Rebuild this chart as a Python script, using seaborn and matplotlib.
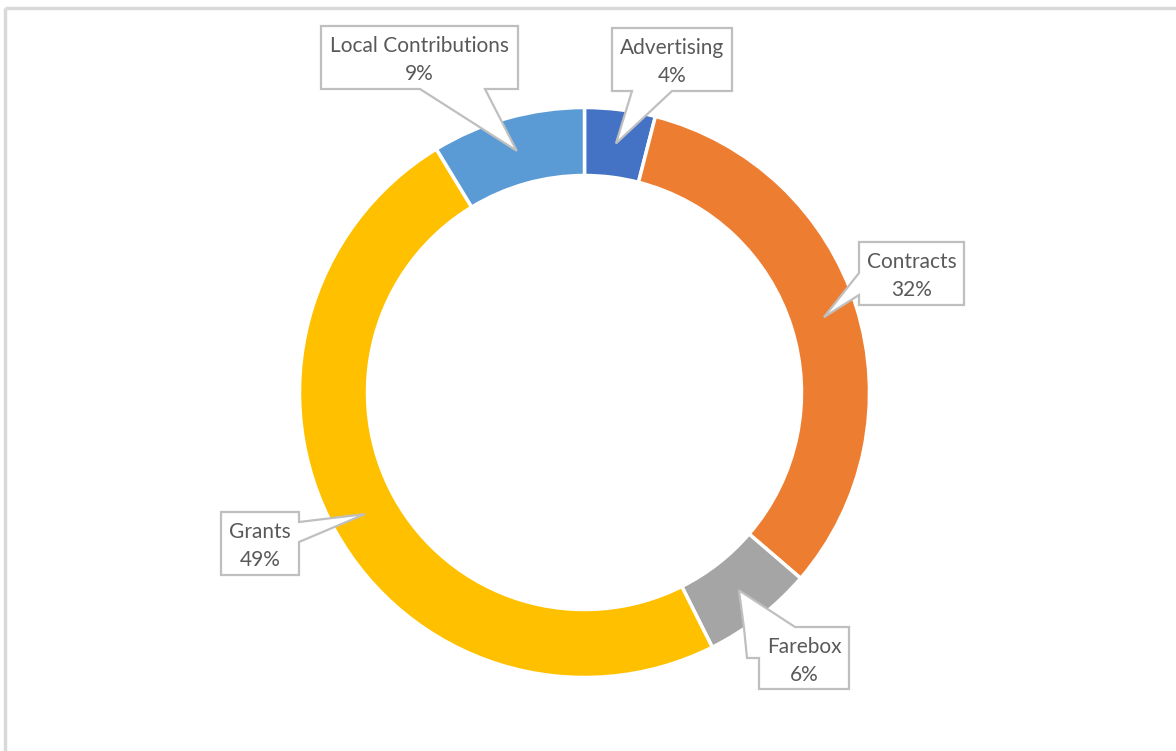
import numpy as np
import seaborn as sns
import matplotlib.pyplot as plt
from matplotlib.patches import Polygon

# data
categories = ["Advertising", "Contracts", "Farebox", "Grants", "Local Contributions"]
values = [4.0, 32.3, 6.3, 48.7, 8.7]
pct_labels = ["4%", "32%", "6%", "49%", "9%"]

sns.set_theme(style="white")
plt.rcParams['font.family'] = ['Lato', 'DejaVu Sans']

W, H = 1176, 751
colors = ["#4472C4", "#ED7D31", "#A5A5A5", "#FFC000", "#5B9BD5"]
cx, cy = 584.5, 392.5
r_out, ring = 285, 68

fig = plt.figure(figsize=(W / 100, H / 100), dpi=100)
ax = fig.add_axes([0, 0, 1, 1])


def px(x, y):
    # pixel coords (y down) -> data coords (y up)
    return (x, H - y)


ax.pie(values, colors=colors, startangle=90, counterclock=False,
       radius=r_out, center=px(cx, cy),
       wedgeprops=dict(width=ring, edgecolor="white", linewidth=2.5))
ax.set_xlim(0, W)
ax.set_ylim(0, H)
ax.set_axis_off()

# chart frame (only top/left visible in the crop)
ax.plot([5, W], [H - 8, H - 8], color="#D9D9D9", lw=2.5, solid_capstyle="butt")
ax.plot([5, 5], [0, H - 8], color="#D9D9D9", lw=2.5, solid_capstyle="butt")

# callout layout: box (x0, y0, x1, y1) in pixels, side of the pointer, base span
layout = {
    "Advertising": ((612, 28, 732, 91), "bottom", 632, 672),
    "Contracts": ((859, 242, 964, 305), "left", 273, 295),
    "Farebox": ((759, 627, 849, 689), "topleft", 795, 658),
    "Grants": ((221, 512, 299, 575), "right", 522, 542),
    "Local Contributions": ((321, 26, 518, 89), "bottom", 420, 485),
}

cum = np.cumsum([0] + values)
r_mid = r_out - ring / 2
for i, name in enumerate(categories):
    mid = (cum[i] + cum[i + 1]) / 2 / cum[-1] * 2 * np.pi
    tip = (cx + r_mid * np.sin(mid), cy - r_mid * np.cos(mid))
    (x0, y0, x1, y1), side, a, b = layout[name]
    TL, TR, BR, BL = (x0, y0), (x1, y0), (x1, y1), (x0, y1)
    if side == "bottom":
        pts = [TL, TR, BR, (b, y1), tip, (a, y1), BL]
    elif side == "left":
        pts = [TL, TR, BR, BL, (x0, b), tip, (x0, a)]
    elif side == "right":
        pts = [TL, TR, (x1, a), tip, (x1, b), BR, BL]
    else:
        pts = [(a, y0), TR, BR, BL, (x0, b), (x0 - 12, b), (x0 - 15, y0 + 1), tip]
    poly = Polygon([px(*p) for p in pts], closed=True, facecolor="white",
                   edgecolor="#BFBFBF", linewidth=1.6, zorder=5)
    ax.add_patch(poly)
    ax.text(*px((x0 + x1) / 2, (y0 + y1) / 2 + 3), f"{name}\n{pct_labels[i]}",
            ha="center", va="center", fontsize=15, color="#595959",
            linespacing=1.5, zorder=6)

fig.savefig("out.png", dpi=100, facecolor="white")
